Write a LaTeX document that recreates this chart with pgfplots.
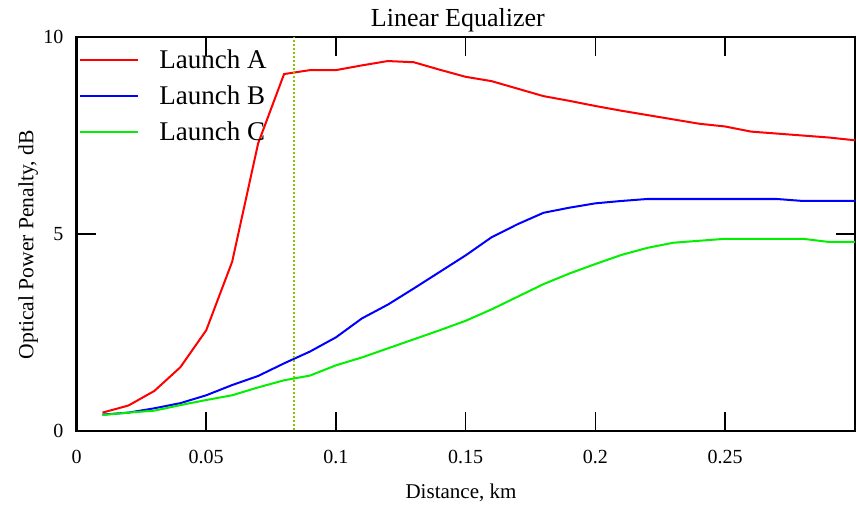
\documentclass[border=0pt]{standalone}
\usepackage{pgfplots}
\pgfplotsset{compat=1.18}
\usepackage{fontspec}
\setmainfont{Liberation Serif}

\definecolor{lineA}{RGB}{255,0,0}
\definecolor{lineB}{RGB}{0,0,255}
\definecolor{lineC}{RGB}{0,240,0}
\definecolor{reachline}{RGB}{140,195,0}

\begin{document}
\begin{tikzpicture}
\begin{axis}[
  name=ax,
  scale only axis,
  width=389pt, height=197pt,
  xmin=0, xmax=0.3, ymin=0, ymax=10,
  xtick={0,0.05,0.1,0.15,0.2,0.25},
  xticklabels={0,0.05,0.1,0.15,0.2,0.25},
  ytick={0,5,10},
  tick align=inside,
  major tick length=9.5pt,
  xtick style={black, line width=0.8pt},
  ytick style={black, line width=0.8pt},
  axis line style={black, line width=1.2pt},
  /pgf/number format/assume math mode=true,
  ticklabel style={font=\fontsize{10}{12}\selectfont},
  xticklabel style={yshift=-6pt},
  yticklabel style={xshift=-3pt},
  title={Linear Equalizer},
  title style={at={(axis description cs:0.49,1.013)}, anchor=base, yshift=-3.5pt, font=\fontsize{13}{15}\selectfont, inner sep=0pt},
  xlabel={Distance, km},
  xlabel style={at={(axis description cs:0.494,-0.157)}, anchor=center, font=\fontsize{10.5}{12}\selectfont},
  ylabel={Optical Power Penalty, dB},
  ylabel style={at={(axis description cs:-0.062,0.473)}, anchor=center, rotate=0, font=\fontsize{10.8}{13}\selectfont},
  legend style={at={(axis description cs:0.003,0.98)}, anchor=north west, draw=none, fill=none,
    font=\fontsize{13.5}{16}\selectfont, row sep=3.2pt, inner sep=0pt},
  legend cell align=left,
  legend image code/.code={\draw[#1] (0pt,0pt) -- (29pt,0pt);},
  /tikz/every odd column/.append style={column sep=8pt},
  every axis plot/.append style={line width=1pt},
]
\addplot[lineA] coordinates {
  (0.01,0.47) (0.02,0.65) (0.03,1.02) (0.04,1.62) (0.05,2.56) (0.06,4.30)
  (0.07,7.30) (0.08,9.06) (0.09,9.16) (0.10,9.16) (0.11,9.28) (0.12,9.39)
  (0.13,9.36) (0.14,9.17) (0.15,8.99) (0.16,8.88) (0.17,8.69) (0.18,8.50)
  (0.19,8.38) (0.20,8.25) (0.21,8.13) (0.22,8.02) (0.23,7.91) (0.24,7.80)
  (0.25,7.73) (0.26,7.60) (0.27,7.55) (0.28,7.50) (0.29,7.45) (0.30,7.38)
};
\addlegendentry{Launch A}
\addplot[lineB] coordinates {
  (0.01,0.42) (0.02,0.47) (0.03,0.58) (0.04,0.71) (0.05,0.91) (0.06,1.17)
  (0.07,1.40) (0.08,1.72) (0.09,2.02) (0.10,2.38) (0.11,2.86) (0.12,3.21)
  (0.13,3.62) (0.14,4.04) (0.15,4.46) (0.16,4.92) (0.17,5.25) (0.18,5.54)
  (0.19,5.67) (0.20,5.78) (0.21,5.84) (0.22,5.89) (0.23,5.89) (0.24,5.89)
  (0.25,5.89) (0.26,5.89) (0.27,5.89) (0.28,5.84) (0.29,5.84) (0.30,5.84)
};
\addlegendentry{Launch B}
\addplot[lineC] coordinates {
  (0.01,0.41) (0.02,0.47) (0.03,0.52) (0.04,0.66) (0.05,0.79) (0.06,0.91)
  (0.07,1.11) (0.08,1.29) (0.09,1.41) (0.10,1.67) (0.11,1.87) (0.12,2.10)
  (0.13,2.33) (0.14,2.56) (0.15,2.80) (0.16,3.09) (0.17,3.41) (0.18,3.73)
  (0.19,4.00) (0.20,4.24) (0.21,4.47) (0.22,4.65) (0.23,4.78) (0.24,4.83)
  (0.25,4.88) (0.26,4.88) (0.27,4.88) (0.28,4.88) (0.29,4.80) (0.30,4.80)
};
\addlegendentry{Launch C}
% dotted marker at the chosen reach
\addplot[reachline, line width=1pt, dash pattern=on 1pt off 1pt, forget plot] coordinates {(0.084,-1.2) (0.084,12)};
\end{axis}
% short inward tick strokes along the lower edge, drawn as a thin grid strip
\begin{axis}[
  at={(ax.south west)}, anchor=south west,
  scale only axis,
  width=389pt, height=9.5pt,
  xmin=0, xmax=0.3, ymin=0, ymax=1,
  axis line style={draw=none},
  xtick={0.05,0.1,0.15,0.2,0.25},
  xticklabels={},
  ytick=\empty,
  major tick length=0pt,
  xmajorgrids,
  major grid style={black, line width=0.8pt, solid},
]
\end{axis}
\path[use as bounding box] ([xshift=-38.25pt, yshift=-38.5pt]ax.south west) rectangle ([xshift=0.5pt, yshift=18.5pt]ax.north east);
\end{tikzpicture}
\end{document}
